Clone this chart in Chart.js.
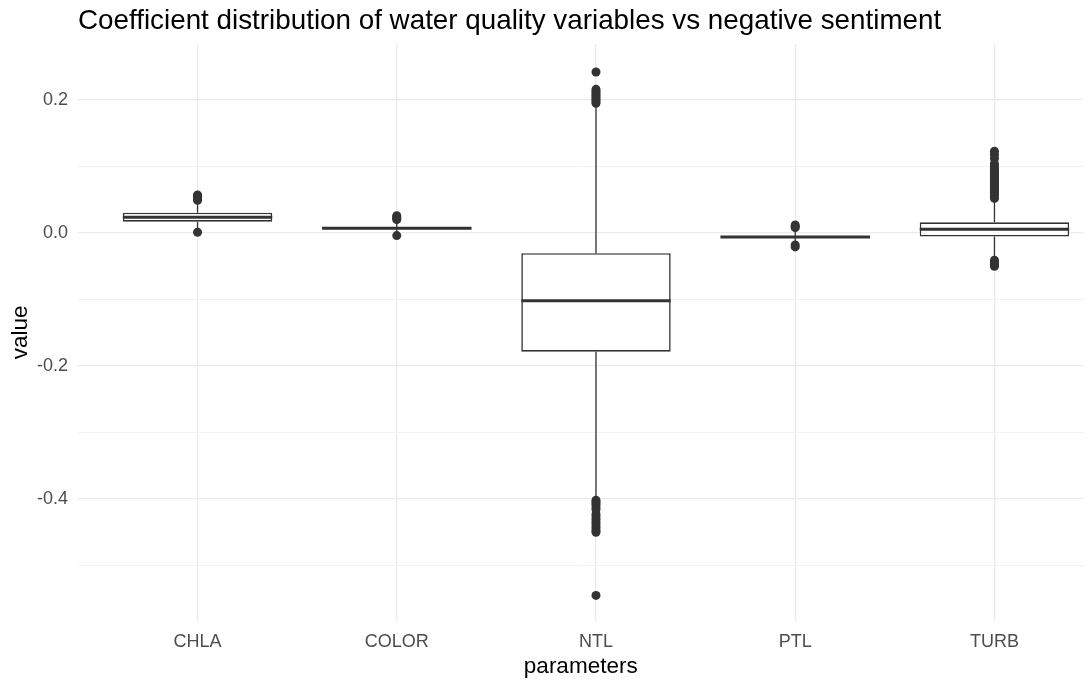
<!DOCTYPE html>
<html>
<head>
<meta charset="utf-8">
<script src="https://cdn.jsdelivr.net/npm/chart.js@4.4.0/dist/chart.umd.min.js"></script>
<style>
  html, body { margin: 0; padding: 0; background: #fff; overflow: hidden; }
  #wrap { width: 1088px; height: 680px; }
</style>
</head>
<body>
<div id="wrap"><canvas id="box-chart"></canvas></div>
<script>
Chart.defaults.font.family = "'Liberation Sans', Arial, sans-serif";
Chart.defaults.color = '#4D4D4D';

// box statistics
const categories = ['CHLA', 'COLOR', 'NTL', 'PTL', 'TURB'];
const whiskerLow  = [0.006, 0.000, -0.397, -0.014, -0.036];
const q1          = [0.017, 0.0055, -0.1785, -0.0075, -0.0055];
const median      = [0.0236, 0.007, -0.102, -0.006, 0.0055];
const q3          = [0.0305, 0.0085, -0.0305, -0.0045, 0.016];
const whiskerHigh = [0.045, 0.017, 0.191, 0.004, 0.048];

const outliers = [
  [0.057, 0.055, 0.053, 0.051, 0.049, 0.001],
  [0.026, 0.024, 0.022, 0.020, -0.004],
  [0.242, 0.216, 0.213, 0.210, 0.207, 0.204, 0.201, 0.198, 0.195,
   -0.402, -0.405, -0.408, -0.412, -0.416, -0.423, -0.427, -0.431,
   -0.435, -0.439, -0.443, -0.447, -0.450, -0.545],
  [0.012, 0.010, 0.008, -0.018, -0.021],
  [0.123, 0.118, 0.112, 0.104, 0.100, 0.097, 0.094, 0.091, 0.088, 0.085,
   0.082, 0.079, 0.076, 0.073, 0.070, 0.067, 0.064, 0.061, 0.058, 0.055,
   0.052, -0.041, -0.044, -0.047, -0.050]
];

const yTicks = [-0.5, -0.4, -0.3, -0.2, -0.1, 0.0, 0.1, 0.2];
const yMajor = [-0.4, -0.2, 0.0, 0.2];

const BOX_WIDTH = 0.75;
const INK = '#333333';

const pos = categories.map((c, i) => i + 1);

const boxData = pos.map((x, i) => ({ x: x, y: [q1[i], q3[i]] }));

const whiskerData = [];
pos.forEach((x, i) => {
  whiskerData.push({ x: x, y: q3[i] }, { x: x, y: whiskerHigh[i] }, { x: x, y: null });
  whiskerData.push({ x: x, y: q1[i] }, { x: x, y: whiskerLow[i] }, { x: x, y: null });
});

const medianData = [];
pos.forEach((x, i) => {
  medianData.push({ x: x - BOX_WIDTH / 2, y: median[i] }, { x: x + BOX_WIDTH / 2, y: median[i] }, { x: x, y: null });
});

const outlierData = [];
outliers.forEach((list, i) => {
  list.forEach(v => outlierData.push({ x: pos[i], y: v }));
});

const isMajor = v => yMajor.some(m => Math.abs(m - v) < 1e-9);

const ctx = document.getElementById('box-chart').getContext('2d');
new Chart(ctx, {
  type: 'bar',
  data: {
    datasets: [
      {
        label: 'box',
        data: boxData,
        backgroundColor: '#ffffff',
        borderColor: INK,
        borderWidth: 1.6,
        borderSkipped: false,
        categoryPercentage: BOX_WIDTH,
        barPercentage: 1,
        order: 4
      },
      {
        type: 'line',
        label: 'whiskers',
        data: whiskerData,
        borderColor: INK,
        borderWidth: 1.3,
        pointRadius: 0,
        spanGaps: false,
        fill: false,
        order: 3
      },
      {
        type: 'line',
        label: 'median',
        data: medianData,
        borderColor: INK,
        borderWidth: 3,
        pointRadius: 0,
        spanGaps: false,
        fill: false,
        order: 2
      },
      {
        type: 'scatter',
        label: 'outliers',
        data: outlierData,
        backgroundColor: INK,
        borderColor: INK,
        pointRadius: 4.5,
        borderWidth: 0,
        order: 1
      }
    ]
  },
  options: {
    responsive: true,
    maintainAspectRatio: false,
    animation: false,
    layout: { padding: 0 },
    scales: {
      x: {
        type: 'linear',
        offset: false,
        min: 0.4,
        max: 5.447,
        afterBuildTicks: (scale) => {
          scale.ticks = pos.map(v => ({ value: v }));
        },
        afterFit: (scale) => { scale.height = 59; },
        grid: { offset: false, color: '#EBEBEB', lineWidth: 1.3, drawTicks: false },
        border: { display: false },
        ticks: {
          padding: 10,
          color: '#4D4D4D',
          font: { size: 18 },
          callback: (v) => categories[Math.round(v) - 1] || ''
        },
        title: {
          display: true,
          text: 'parameters',
          color: '#000000',
          font: { size: 22.5, lineHeight: 1.15 },
          padding: { top: 0, bottom: 0 }
        }
      },
      y: {
        min: -0.5835,
        max: 0.2842,
        afterBuildTicks: (scale) => {
          scale.ticks = yTicks.map(v => ({ value: v }));
        },
        afterFit: (scale) => { scale.width = 78; },
        grid: {
          drawTicks: false,
          color: (c) => isMajor(c.tick.value) ? '#EBEBEB' : '#F3F3F3',
          lineWidth: (c) => isMajor(c.tick.value) ? 1.3 : 1
        },
        border: { display: false },
        ticks: {
          padding: 10,
          color: '#4D4D4D',
          font: { size: 18 },
          callback: (v) => isMajor(v) ? v.toFixed(1) : ''
        },
        title: {
          display: true,
          text: 'value',
          color: '#000000',
          font: { size: 22.5 },
          padding: { top: 7, bottom: 0 }
        }
      }
    },
    plugins: {
      legend: { display: false },
      tooltip: { enabled: false },
      title: {
        display: true,
        text: 'Coefficient distribution of water quality variables vs negative sentiment',
        align: 'start',
        fullSize: false,
        color: '#000000',
        font: { size: 27.8, weight: 'normal', lineHeight: 1.2 },
        padding: { top: 5, bottom: 5.6 }
      }
    }
  }
});
</script>
</body>
</html>
